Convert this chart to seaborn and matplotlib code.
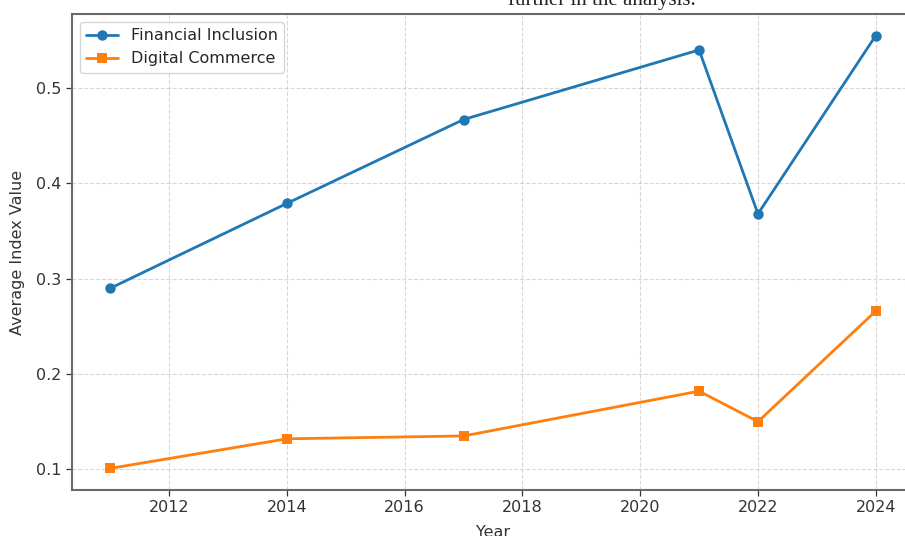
import matplotlib
matplotlib.use("Agg")
import matplotlib.pyplot as plt
import seaborn as sns
import pandas as pd

# Average index values by survey year
years = [2011, 2014, 2017, 2021, 2022, 2024]
financial_inclusion = [0.290, 0.379, 0.467, 0.540, 0.368, 0.555]
digital_commerce = [0.101, 0.132, 0.135, 0.182, 0.150, 0.266]
x_ticks = [2012, 2014, 2016, 2018, 2020, 2022, 2024]
y_ticks = [0.1, 0.2, 0.3, 0.4, 0.5]

df = pd.DataFrame({
    "Year": years * 2,
    "Value": financial_inclusion + digital_commerce,
    "Series": ["Financial Inclusion"] * len(years) + ["Digital Commerce"] * len(years),
})

sns.set_style("white")
plt.rcParams["font.family"] = ["DejaVu Sans"]

FS = 11.5

fig = plt.figure(figsize=(9.05, 5.36), dpi=100)
ax = fig.add_axes([72 / 905, 46 / 536, 842 / 905, 476 / 536])

sns.lineplot(
    data=df, x="Year", y="Value", hue="Series", style="Series",
    markers={"Financial Inclusion": "o", "Digital Commerce": "s"},
    dashes=False, palette=["#1f77b4", "#ff7f0e"],
    linewidth=2.0, markersize=7.5, markeredgewidth=0, ax=ax,
)

ax.set_xticks(x_ticks)
ax.set_yticks(y_ticks)
ax.set_yticklabels([f"{v:.1f}" for v in y_ticks])
ax.set_xlabel("Year", fontsize=FS, color="#333333", labelpad=7)
ax.set_ylabel("Average Index Value", fontsize=FS, color="#333333", labelpad=8)
ax.tick_params(axis="both", labelsize=FS, colors="#333333", length=4, width=0.9,
               direction="out", bottom=True, left=True)
ax.grid(True, color="#c8c8c8", linestyle="--", linewidth=0.8, alpha=0.7)
for s in ax.spines.values():
    s.set_color("#6a6a6a")
    s.set_linewidth(1.5)

leg = ax.legend(loc="upper left", fontsize=FS, frameon=True, title=None)
leg.get_frame().set_edgecolor("#cccccc")

# Trailing line of the surrounding document text
fig.text(0.665, 531 / 536, "further in the analysis.", ha="center", va="baseline",
         fontsize=15, family=["Liberation Serif", "DejaVu Serif"], color="#222222")

fig.savefig("out.png", dpi=100)
